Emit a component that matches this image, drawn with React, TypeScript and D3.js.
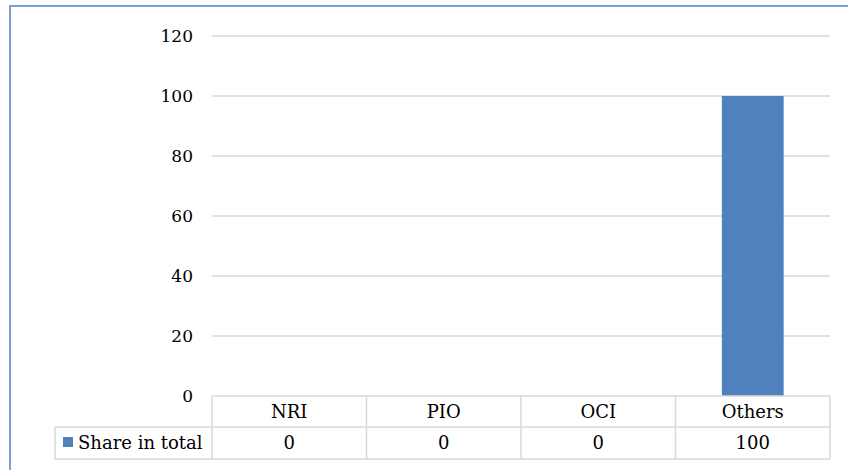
import React from "react";
import * as d3 from "d3";

const categories = ["NRI", "PIO", "OCI", "Others"];
const seriesName = "Share in total";
const values = [0, 0, 0, 100];
const yTicks = [0, 20, 40, 60, 80, 100, 120];

const W = 848;
const H = 470;
const FONT = "DejaVu Serif, serif";

export default function App() {
  const plotLeft = 212;
  const plotRight = 830;
  const y = d3.scaleLinear().domain([0, 120]).range([396, 36]);
  const x = d3.scaleBand().domain(categories).range([plotLeft, plotRight]).paddingInner(0).paddingOuter(0);
  const bw = x.bandwidth();
  const barW = bw * 0.4;
  const rowTop = y(0);
  const rowMid = 427;
  const rowBot = 459;
  const tableLeft = 55;
  const grid = "#d9d9d9";

  return (
    <svg width={W} height={H} style={{ position: "absolute", left: 0, top: 0, background: "#fff" }}>
      <rect x={0} y={0} width={W} height={H} fill="#fff" />
      <rect x={10} y={6} width={W + 10} height={H + 10} fill="none" stroke="#4f81bd" strokeWidth={1.5} />
      {yTicks.map((t) => (
        <g key={t}>
          {t > 0 && (
            <line x1={plotLeft} x2={plotRight} y1={y(t)} y2={y(t)} stroke={grid} strokeWidth={1.3} />
          )}
          <text x={193} y={y(t)} dy="0.35em" textAnchor="end" fontFamily={FONT} fontSize={17} fill="#000">
            {t}
          </text>
        </g>
      ))}
      {categories.map((c, i) => (
        <rect key={c} x={(x(c) as number) + (bw - barW) / 2} y={y(values[i])} width={barW} height={y(0) - y(values[i])} fill="#4f81bd" />
      ))}
      <g stroke={grid} strokeWidth={1.5} fill="none">
        <line x1={plotLeft} x2={plotRight} y1={rowTop} y2={rowTop} />
        <line x1={tableLeft} x2={plotRight} y1={rowMid} y2={rowMid} />
        <line x1={tableLeft} x2={plotRight} y1={rowBot} y2={rowBot} />
        <line x1={tableLeft} x2={tableLeft} y1={rowMid} y2={rowBot} />
        {categories.map((c) => (
          <line key={c} x1={x(c) as number} x2={x(c) as number} y1={rowTop} y2={rowBot} />
        ))}
        <line x1={plotRight} x2={plotRight} y1={rowTop} y2={rowBot} />
      </g>
      {categories.map((c, i) => (
        <g key={c} fontFamily={FONT} fontSize={18} fill="#000" textAnchor="middle">
          <text x={(x(c) as number) + bw / 2} y={(rowTop + rowMid) / 2} dy="0.35em">{c}</text>
          <text x={(x(c) as number) + bw / 2} y={(rowMid + rowBot) / 2} dy="0.35em">{values[i]}</text>
        </g>
      ))}
      <rect x={63} y={437} width={10} height={10} fill="#4f81bd" />
      <text x={78} y={(rowMid + rowBot) / 2} dy="0.35em" fontFamily={FONT} fontSize={18} fill="#000">
        {seriesName}
      </text>
    </svg>
  );
}
